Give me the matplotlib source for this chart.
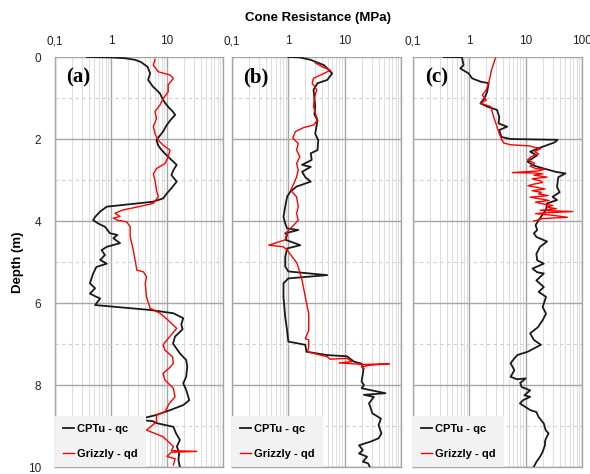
import matplotlib
matplotlib.use("Agg")
import matplotlib.pyplot as plt
from matplotlib.ticker import FixedLocator, FixedFormatter, NullFormatter, LogLocator
from matplotlib.lines import Line2D

plt.rcParams['font.family'] = ['Liberation Sans Narrow', 'Liberation Sans', 'DejaVu Sans']

# ---------------- data (depth in m, resistance in MPa) ----------------
a_qc_depth = [0.0, 0.01, 0.03, 0.07, 0.12, 0.24, 0.4, 0.56, 0.72, 0.89, 1.05, 1.21, 1.33, 1.41, 1.54,
              1.66, 1.82, 2.02, 2.15, 2.27, 2.40, 2.51, 2.63, 2.76, 2.88, 3.04, 3.20, 3.33, 3.45, 3.53,
              3.61, 3.65, 3.77, 3.90, 3.98, 4.06, 4.14, 4.30, 4.34, 4.42, 4.54, 4.63, 4.71, 4.83, 4.95,
              5.04, 5.12, 5.28, 5.52, 5.64, 5.77, 5.85, 5.89, 6.05, 6.17, 6.25, 6.37, 6.52, 6.64, 6.82,
              6.99, 7.23, 7.39, 7.55, 7.80, 7.96, 8.12, 8.37, 8.49, 8.61, 8.73, 8.80, 8.85, 8.88, 8.93,
              9.02, 9.18, 9.34, 9.50, 9.65, 9.83, 10.0]
a_qc = [0.37, 1.0, 1.8, 2.7, 3.4, 4.5, 5.0, 4.6, 5.6, 7.5, 8.5, 10.4, 12.7, 14, 11.5,
        9.9, 8.5, 6.5, 6.9, 8.0, 9.9, 12, 14.9, 13, 12, 14.9, 12, 9.9, 8.5, 5.6,
        1.6, 0.84, 0.64, 0.52, 0.48, 0.59, 0.78, 0.96, 1.3, 1.1, 1.45, 0.84, 0.68, 0.78, 0.64,
        0.84, 0.55, 0.48, 0.42, 0.52, 0.42, 0.55, 0.64, 0.52, 5.0, 13, 19.5, 18, 19, 13.9,
        12.8, 17, 22, 23, 22, 19.5, 22, 25, 19.5, 11.5, 6.5, 4.0, 2.9, 5.5, 6.5,
        13, 14.5, 17, 15, 16.5, 16, 17]

a_qd_depth = [0.06, 0.2, 0.36, 0.44, 0.52, 0.68, 0.85, 1.02, 1.17, 1.33, 1.5, 1.7, 1.87, 2.03, 2.15,
              2.27, 2.43, 2.6, 2.72, 2.85, 3.01, 3.25, 3.41, 3.57, 3.66, 3.73, 3.81, 3.89, 3.93, 3.98,
              4.02, 4.14, 4.38, 4.71, 5.2, 5.24, 5.36, 5.52, 5.85, 6.13, 6.25, 6.42, 6.62, 6.74, 7.02,
              7.15, 7.31, 7.47, 7.56, 7.72, 7.88, 8.08, 8.29, 8.45, 8.65, 8.73, 8.9, 9.1, 9.26, 9.5,
              9.6, 9.62, 9.64, 9.74, 9.8, 9.95]
a_qd = [6.1, 5.7, 7.0, 11.3, 13, 10.5, 10.5, 8.5, 7.5, 6.1, 6.5, 5.7, 6.1, 7.0, 8.5,
        11.3, 10.5, 9.2, 6.5, 5.7, 6.1, 6.5, 7.0, 5.7, 2.9, 1.65, 1.18, 1.45, 1.1, 1.3,
        1.9, 2.2, 2.2, 2.5, 2.9, 3.8, 4.3, 4.1, 4.3, 5.0, 7.5, 10.5, 14.9, 12.5, 8.5,
        9.2, 12.5, 13, 11.5, 8.5, 9.2, 13, 13.9, 11, 9.2, 6.5, 6.5, 4.3, 8.5, 13,
        12, 34, 12, 10, 14, 13]

b_qc_depth = [0.0, 0.01, 0.07, 0.2, 0.4, 0.56, 0.64, 0.8, 1.0, 1.21, 1.4, 1.54, 1.87, 2.03, 2.27,
              2.35, 2.51, 2.63, 2.68, 2.8, 2.93, 3.04, 3.16, 3.28, 3.41, 3.65, 3.9, 4.06, 4.18, 4.22,
              4.3, 4.34, 4.46, 4.59, 4.67, 4.88, 5.11, 5.23, 5.32, 5.4, 5.52, 5.85, 6.34, 6.67, 6.94,
              7.02, 7.19, 7.27, 7.3, 7.43, 7.48, 7.63, 7.92, 8.0, 8.08, 8.2, 8.24, 8.29, 8.45, 8.5,
              8.69, 8.82, 8.98, 9.18, 9.3, 9.38, 9.47, 9.59, 9.67, 9.75, 9.87, 9.91, 10.0]
b_qc = [1.0, 1.6, 2.5, 4.3, 6.0, 4.9, 3.3, 2.8, 2.9, 3.0, 2.9, 3.3, 3.0, 3.4, 3.3,
        2.5, 2.6, 1.75, 2.5, 1.75, 2.0, 2.5, 1.4, 1.09, 0.95, 0.88, 0.82, 0.88, 0.95, 1.5,
        0.88, 0.95, 0.9, 1.63, 0.95, 0.88, 0.88, 1.0, 4.9, 1.0, 0.82, 0.82, 0.88, 0.95, 1.0,
        2.0, 2.1, 4.9, 11, 14.6, 20, 21.5, 20, 22, 20, 53, 22, 33, 27, 28,
        31, 44, 40, 45, 40, 29, 18, 21, 18, 25, 21, 26, 28]

b_qd_depth = [0.14, 0.24, 0.32, 0.4, 0.52, 0.64, 0.8, 1.0, 1.21, 1.54, 1.66, 1.72, 1.82, 1.98, 2.11,
              2.27, 2.43, 2.6, 2.76, 2.93, 3.09, 3.25, 3.41, 3.65, 3.82, 3.98, 4.1, 4.26, 4.46, 4.59,
              4.63, 4.71, 5.03, 5.44, 5.85, 6.26, 6.67, 6.87, 6.9, 7.07, 7.19, 7.31, 7.37, 7.35, 7.43,
              7.46, 7.5, 7.48, 7.52, 7.56, 7.6]
b_qd = [3.0, 4.0, 5.6, 4.3, 2.8, 2.65, 3.2, 2.9, 2.8, 3.3, 2.8, 1.88, 1.33, 1.2, 1.5,
        1.4, 1.6, 1.4, 1.5, 1.4, 1.25, 1.1, 1.4, 1.5, 1.4, 1.5, 1.25, 0.95, 0.88, 0.45,
        0.82, 0.95, 1.43, 1.75, 2.0, 2.3, 2.3, 2.0, 2.3, 2.3, 2.2, 4.9, 5.5, 11, 13.5,
        8, 21.5, 62, 27, 20, 22]

c_qc_depth = [0.0, 0.005, 0.2, 0.28, 0.4, 0.52, 0.6, 0.64, 0.85, 1.01, 1.13, 1.21, 1.29, 1.46, 1.62,
              1.7, 1.78, 1.95, 2.0, 2.02, 2.08, 2.15, 2.23, 2.31, 2.4, 2.55, 2.65, 2.72, 2.8, 2.84,
              2.93, 3.05, 3.17, 3.3, 3.41, 3.49, 3.57, 3.72, 3.86, 3.98, 4.1, 4.22, 4.3, 4.39, 4.5,
              4.63, 4.8, 4.96, 5.04, 5.16, 5.25, 5.28, 5.45, 5.61, 5.73, 5.85, 6.1, 6.26, 6.42, 6.59,
              6.74, 6.9, 7.02, 7.19, 7.27, 7.35, 7.47, 7.64, 7.8, 7.86, 7.84, 7.95, 8.05, 8.13, 8.25,
              8.29, 8.37, 8.45, 8.54, 8.61, 8.66, 8.78, 8.94, 9.1, 9.18, 9.3, 9.38, 9.47, 9.63, 9.75,
              9.87, 9.99]
c_qc = [0.35, 0.74, 0.79, 0.69, 0.97, 1.12, 1.57, 2.2, 2.07, 1.85, 1.57, 2.07, 3.1, 3.4, 3.3,
        4.7, 3.4, 3.7, 5.4, 37, 33, 24, 16.5, 12, 15.9, 10.8, 14, 21, 34, 51,
        38, 37, 36, 40, 30, 36, 24, 23, 19.6, 17, 15, 16, 14, 15.5, 24,
        18, 15.5, 16, 21, 13.2, 16, 21, 15.5, 21, 17, 23, 20, 23, 20, 16.5,
        12, 14, 18.6, 10.8, 7.1, 6.3, 5.4, 6.3, 5.4, 7, 10, 8, 8.5, 12, 9.5,
        12, 9, 7.9, 10, 12, 15.5, 17, 21, 22.6, 25.5, 23, 22, 22, 20, 18,
        15.6, 14]

c_qd_depth = [0.03, 0.3, 0.64, 0.8, 0.93, 1.05, 1.13, 1.21, 1.46, 1.7, 1.87, 2.03, 2.1, 2.14, 2.17,
              2.2, 2.23, 2.27, 2.31, 2.36, 2.43, 2.51, 2.56, 2.6, 2.66, 2.72, 2.74, 2.78, 2.82, 2.83,
              2.85, 2.88, 2.93, 2.97, 3.02, 3.06, 3.1, 3.14, 3.18, 3.22, 3.26, 3.3, 3.34, 3.38, 3.42,
              3.46, 3.5, 3.54, 3.58, 3.62, 3.66, 3.7, 3.74, 3.77, 3.8, 3.82, 3.86, 3.91, 3.94, 3.98,
              4.0]
c_qd = [2.9, 2.5, 2.2, 2.0, 1.7, 2.0, 1.6, 2.4, 2.7, 3.1, 3.4, 3.8, 4.1, 5.4, 12,
        14, 18.6, 16.5, 14.4, 17, 12.5, 10.8, 13, 14.4, 12, 15, 22, 16, 5.8, 15,
        20, 14, 24, 13, 18, 20, 14, 11, 16, 22, 13, 19, 17, 25, 12,
        18, 26, 15, 20, 30, 24, 35, 18, 68, 22, 15, 30, 55, 20, 16,
        14]

panel_names = ['(a)', '(b)', '(c)']
xtick_vals = [0.1, 1, 10, 100]
xtick_text = ['0,1', '1', '10', '100']
ytick_vals = [0, 2, 4, 6, 8, 10]
legend_labels = ['CPTu - qc', 'Grizzly - qd']

# ---------------- figure ----------------
W, H = 590, 474
fig = plt.figure(figsize=(W / 100, H / 100), dpi=100)

boxes = [(55, 223), (232, 401), (413, 582)]
top_px, bot_px = 57, 467
series = [(a_qc_depth, a_qc, a_qd_depth, a_qd),
          (b_qc_depth, b_qc, b_qd_depth, b_qd),
          (c_qc_depth, c_qc, c_qd_depth, c_qd)]

for i, ((x0, x1), (dq, q, dd, qd)) in enumerate(zip(boxes, series)):
    ax = fig.add_axes([x0 / W, (H - bot_px) / H, (x1 - x0) / W, (bot_px - top_px) / H])
    ax.set_xscale('log')
    ax.set_xlim(0.1, 100)
    ax.set_ylim(10, 0)

    # grid
    ax.xaxis.set_major_locator(FixedLocator(xtick_vals))
    ax.xaxis.set_minor_locator(LogLocator(base=10, subs=range(2, 10), numticks=20))
    ax.xaxis.set_minor_formatter(NullFormatter())
    ax.set_yticks(ytick_vals)
    ax.set_yticks([1, 3, 5, 7, 9], minor=True)
    ax.grid(True, which='major', axis='x', color='#a6a6a6', lw=1.0)
    ax.grid(True, which='minor', axis='x', color='#dedede', lw=0.8)
    ax.grid(True, which='major', axis='y', color='#a6a6a6', lw=1.0)
    ax.grid(True, which='minor', axis='y', color='#cfcfcf', lw=0.8, ls=(0, (3, 3)))
    ax.set_axisbelow(True)

    ax.xaxis.tick_top()
    ax.tick_params(axis='both', which='both', length=0)
    if i == 2:
        ax.xaxis.set_major_formatter(FixedFormatter(xtick_text))
    else:
        ax.xaxis.set_major_formatter(FixedFormatter(xtick_text[:3] + ['']))
    ax.tick_params(axis='x', labelsize=8.5, pad=7, colors='#222222')
    if i == 0:
        ax.tick_params(axis='y', labelsize=8.5, pad=10, colors='#222222')
    else:
        ax.set_yticklabels([])

    for s in ['left', 'right', 'bottom']:
        ax.spines[s].set_color('#a6a6a6')
        ax.spines[s].set_linewidth(1.0)
    ax.spines['top'].set_visible(False)

    ax.plot(q, dq, color='#1a1a1a', lw=1.3, zorder=3)
    ax.plot(qd, dd, color='#ff0000', lw=1.0, zorder=4)

    ax.text(0.14, 0.95, panel_names[i], transform=ax.transAxes, ha='center', va='center',
            fontsize=15, fontweight='bold', family=['Liberation Serif', 'DejaVu Serif'])

    handles = [Line2D([], [], color='#1a1a1a', lw=1.3), Line2D([], [], color='#ff0000', lw=1.0)]
    leg = ax.legend(handles, legend_labels, loc='lower left', borderaxespad=0,
                    frameon=True, fancybox=False, framealpha=1, facecolor='#f2f2f2',
                    edgecolor='none', handlelength=1.0, handletextpad=0.3,
                    labelspacing=1.4, borderpad=0.7,
                    prop={'weight': 'bold', 'size': 8})
    leg.set_zorder(5)

fig.text(318 / W, 1 - 18 / H, 'Cone Resistance (MPa)', ha='center', va='center',
         fontsize=9.5, fontweight='bold')
fig.text(18 / W, 1 - 262 / H, 'Depth (m)', ha='center', va='center', rotation=90,
         fontsize=9.5, fontweight='bold')

fig.savefig('out.png', dpi=100)
